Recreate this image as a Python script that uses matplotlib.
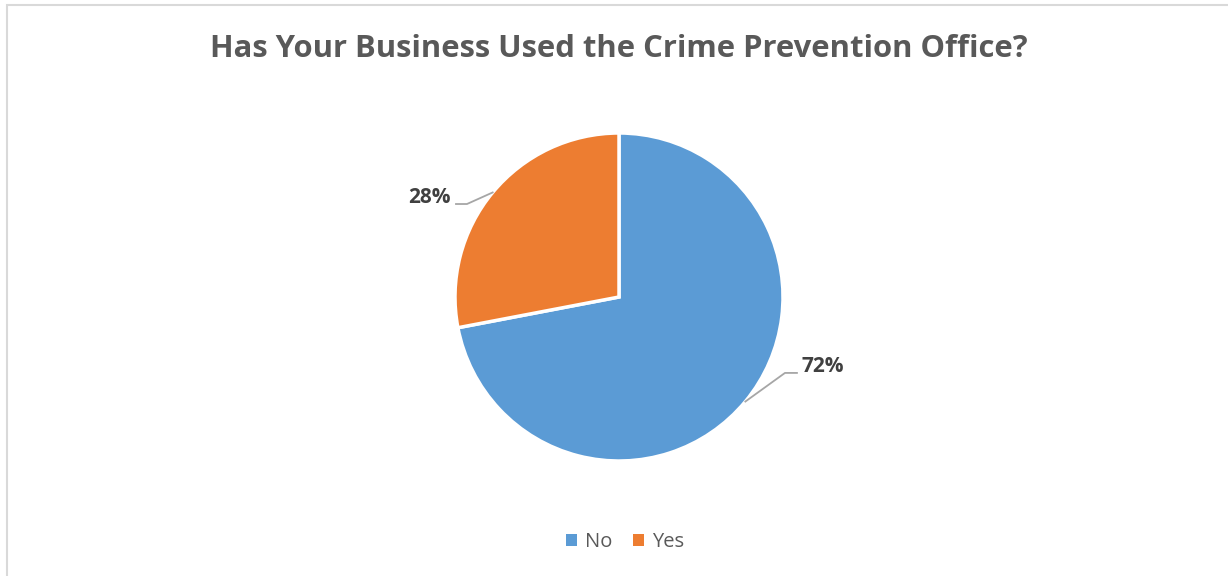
import numpy as np
import matplotlib.pyplot as plt
from matplotlib.patches import Rectangle

labels = ["No", "Yes"]
shares = [72, 28]
colors = ["#5B9BD5", "#ED7D31"]

# elbow and label anchor for each slice's leader line (axes data units)
elbows = [(1.012, -0.463), (-0.927, 0.567)]
ends = [(1.085, -0.463), (-0.994, 0.567)]


def main():
    plt.rcParams["font.family"] = ["Open Sans", "DejaVu Sans"]
    fig = plt.figure(figsize=(12.28, 5.76), dpi=100)

    # thin grey frame around the chart area
    fig.patches.append(Rectangle((6.5 / 1228, -0.1), 1.2, 1 - 4.5 / 576 + 0.1,
                                 transform=fig.transFigure, fill=False,
                                 edgecolor="#D9D9D9", linewidth=1.5))

    w, h = 328 / 1228, 328 / 576
    ax = fig.add_axes([619 / 1228 - w / 2, 1 - 297 / 576 - h / 2, w, h])
    wedges, _ = ax.pie(shares, colors=colors, startangle=90, counterclock=False,
                       radius=1, wedgeprops=dict(edgecolor="white", linewidth=2.5))
    ax.set_xlim(-1, 1)
    ax.set_ylim(-1, 1)
    ax.set_aspect("equal")
    ax.axis("off")

    for wedge, val, elbow, end in zip(wedges, shares, elbows, ends):
        mid = np.deg2rad((wedge.theta1 + wedge.theta2) / 2)
        start = (np.cos(mid), np.sin(mid))
        ax.plot([start[0], elbow[0], end[0]], [start[1], elbow[1], end[1]],
                color="#A6A6A6", linewidth=1.3, clip_on=False)
        ha = "left" if end[0] > 0 else "right"
        dx = 0.03 if end[0] > 0 else -0.03
        ax.text(end[0] + dx, end[1] + 0.04, f"{val}%", ha=ha, va="center",
                fontsize=15, fontweight="bold", color="#404040")

    fig.text(619 / 1228, 1 - 49 / 576, "Has Your Business Used the Crime Prevention Office?",
             ha="center", va="center", fontsize=22.3, fontweight="bold", color="#595959")

    leg = fig.legend(wedges, labels, loc="center", bbox_to_anchor=(625 / 1228, 1 - 542 / 576),
                     ncol=2, frameon=False, fontsize=14.5, handlelength=0.55, handleheight=0.55,
                     handletextpad=0.4, columnspacing=1.0)
    for t in leg.get_texts():
        t.set_color("#595959")
    for p in leg.get_patches():
        p.set_edgecolor("none")

    fig.savefig("out.png", dpi=100)


if __name__ == "__main__":
    main()
